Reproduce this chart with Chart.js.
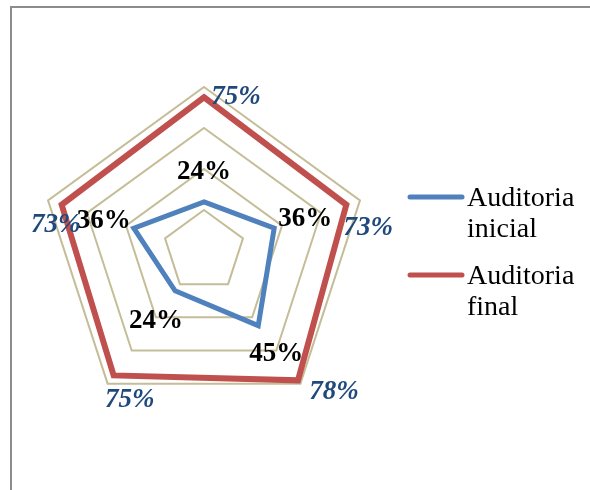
<!DOCTYPE html>
<html lang="es">
<head>
<meta charset="UTF-8" />
<title>Auditoria</title>
<script src="https://cdn.jsdelivr.net/npm/chart.js"></script>
<style>
  body { margin: 0; background: #fff; }
  #frame { position: absolute; left: 10px; top: 6px; width: 600px; height: 500px;
           border-left: 2px solid #8c8c8c; border-top: 2px solid #8c8c8c; }
  #c { position: absolute; left: 0; top: 0; }
</style>
</head>
<body>
<div id="frame"></div>
<canvas id="c" width="590" height="490"></canvas>
<script>
const categories = ['1', '2', '3', '4', '5'];
const inicial = [24, 36, 45, 24, 36];
const final = [75, 73, 78, 75, 73];
const seriesNames = [['Auditoria', 'inicial'], ['Auditoria', 'final']];

// label offsets from each point (dx, dy)
const offsets = [
  [[0, -30], [31, -9], [18, 28], [-19, 30], [-30, -7]],
  [[32, 0], [22, 23], [36, 12], [16, 25], [-6, 20]]
];
const labelFonts = ['bold 27px "Liberation Serif"', 'italic bold 27px "Liberation Serif"'];
const labelColors = ['#000000', '#1F497D'];

const valueLabels = {
  id: 'valueLabels',
  afterDatasetsDraw(chart) {
    const ctx = chart.ctx;
    ctx.save();
    ctx.textAlign = 'center';
    ctx.textBaseline = 'middle';
    chart.data.datasets.forEach((ds, di) => {
      const meta = chart.getDatasetMeta(di);
      ctx.font = labelFonts[di];
      ctx.fillStyle = labelColors[di];
      meta.data.forEach((pt, i) => {
        ctx.fillText(ds.data[i] + '%', pt.x + offsets[di][i][0], pt.y + offsets[di][i][1]);
      });
    });
    ctx.restore();
  }
};

const sideLegend = {
  id: 'sideLegend',
  afterDraw(chart) {
    const ctx = chart.ctx;
    const tops = [197, 275];
    ctx.save();
    chart.data.datasets.forEach((ds, di) => {
      const y = tops[di];
      ctx.strokeStyle = ds.borderColor;
      ctx.lineWidth = 5;
      ctx.lineCap = 'round';
      ctx.beginPath();
      ctx.moveTo(410, y);
      ctx.lineTo(462, y);
      ctx.stroke();
      ctx.fillStyle = '#000';
      ctx.font = '28px "Liberation Serif"';
      ctx.textAlign = 'left';
      ctx.textBaseline = 'alphabetic';
      seriesNames[di].forEach((line, li) => {
        ctx.fillText(line, 467, y + 9 + li * 31);
      });
    });
    ctx.restore();
  }
};

new Chart(document.getElementById('c'), {
  type: 'radar',
  data: {
    labels: categories,
    datasets: [
      {
        label: 'Auditoria inicial',
        data: inicial,
        borderColor: '#4F81BD',
        borderWidth: 5,
        fill: false,
        pointRadius: 0,
        pointHoverRadius: 0
      },
      {
        label: 'Auditoria final',
        data: final,
        borderColor: '#C0504D',
        borderWidth: 6,
        fill: false,
        pointRadius: 0,
        pointHoverRadius: 0
      }
    ]
  },
  options: {
    responsive: false,
    animation: false,
    layout: { padding: { left: 40, right: 222, top: 87, bottom: 75 } },
    plugins: {
      legend: { display: false },
      tooltip: { enabled: false }
    },
    scales: {
      r: {
        min: 0,
        max: 80,
        ticks: { display: false, stepSize: 20 },
        pointLabels: { display: false },
        angleLines: { display: false },
        grid: { color: '#C4BD97', lineWidth: 2 }
      }
    }
  },
  plugins: [valueLabels, sideLegend]
});
</script>
</body>
</html>
